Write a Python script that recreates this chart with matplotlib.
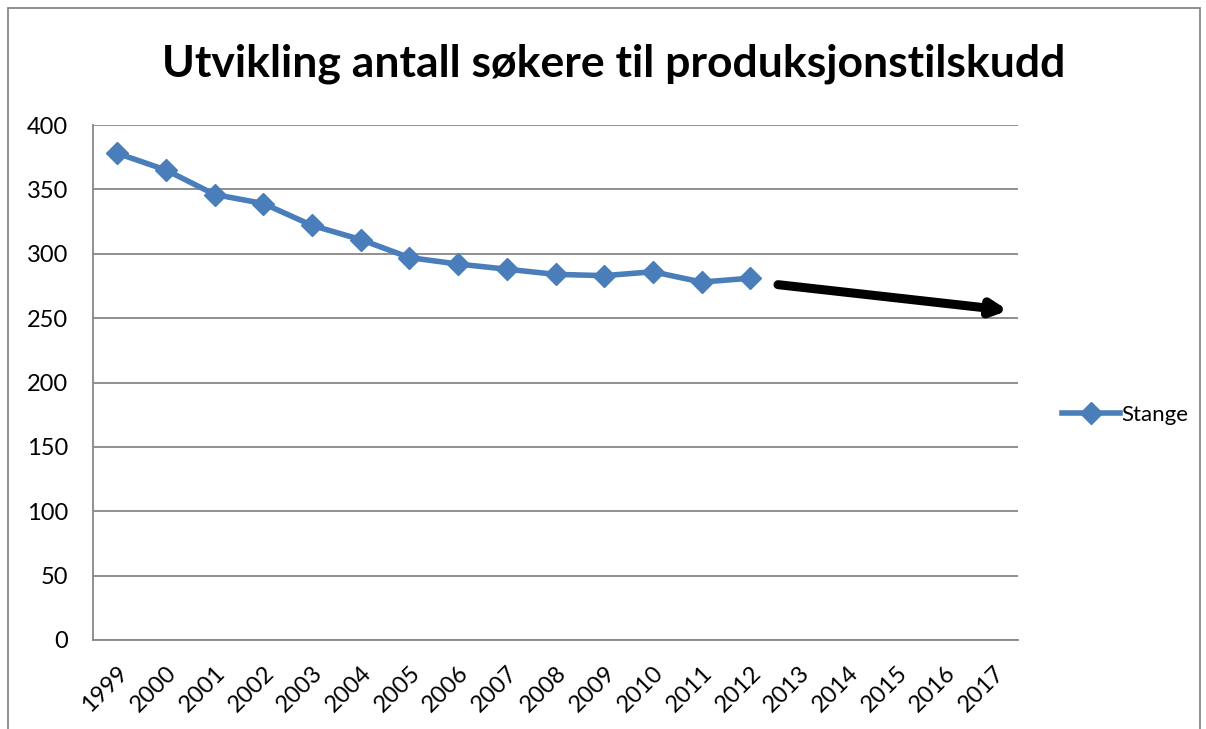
import matplotlib.pyplot as plt
import matplotlib.patheffects as pe
from matplotlib.patches import Rectangle

plt.rcParams['font.family'] = ['Lato', 'DejaVu Sans']

years = [str(y) for y in range(1999, 2018)]
stange = [378, 365, 346, 339, 322, 311, 297, 292, 288, 284, 283, 286, 278, 281]

# trendpil (kategori-indeks, verdi)
arrow_start = (13.57, 276)
arrow_end = (18.3, 256)

fig = plt.figure(figsize=(12.06, 7.29), dpi=100)
ax = fig.add_axes([93 / 1206, 1 - 640 / 729, 925 / 1206, 515 / 729])

x = list(range(len(stange)))
ax.plot(x, stange, color='#4a7ebb', lw=4, marker='D', markersize=11,
        markerfacecolor='#4a7ebb', markeredgecolor='#4a7ebb', label='Stange')

ax.annotate('', xy=arrow_end, xytext=arrow_start,
            arrowprops=dict(arrowstyle='-|>', color='black', lw=6.5, mutation_scale=22,
                            shrinkA=0, shrinkB=0,
                            path_effects=[pe.SimplePatchShadow(offset=(1, -2), shadow_rgbFace='#808080', alpha=1),
                                          pe.Normal()]))

ax.set_xlim(-0.5, len(years) - 0.5)
ax.set_ylim(0, 400)
ax.set_yticks(range(0, 401, 50))
ax.set_xticks(range(len(years)))
ax.set_xticklabels(years, rotation=45, ha='right', rotation_mode='anchor')
ax.tick_params(axis='both', length=0, labelsize=17)
ax.tick_params(axis='y', pad=18)
ax.tick_params(axis='x', pad=16)
ax.grid(axis='y', color='#878787', lw=1.3)
ax.set_axisbelow(True)
for s in ['top', 'right']:
    ax.spines[s].set_visible(False)
for s in ['left', 'bottom']:
    ax.spines[s].set_color('#878787')
    ax.spines[s].set_linewidth(1.3)

fig.text(614 / 1206, 0.912, 'Utvikling antall søkere til produksjonstilskudd',
         ha='center', va='center', fontsize=32, fontweight='bold')

ax.legend(loc='center left', bbox_to_anchor=(1042 / 1206, 1 - 415 / 729),
          bbox_transform=fig.transFigure, frameon=False, fontsize=16,
          handlelength=2.6, handletextpad=0.05)

fig.patches.append(Rectangle((8 / 1206, -0.05), 1192 / 1206, 1.05 - 8 / 729,
                             transform=fig.transFigure, fill=False,
                             edgecolor='#878787', lw=1.3))

fig.savefig('out.png', dpi=100)
